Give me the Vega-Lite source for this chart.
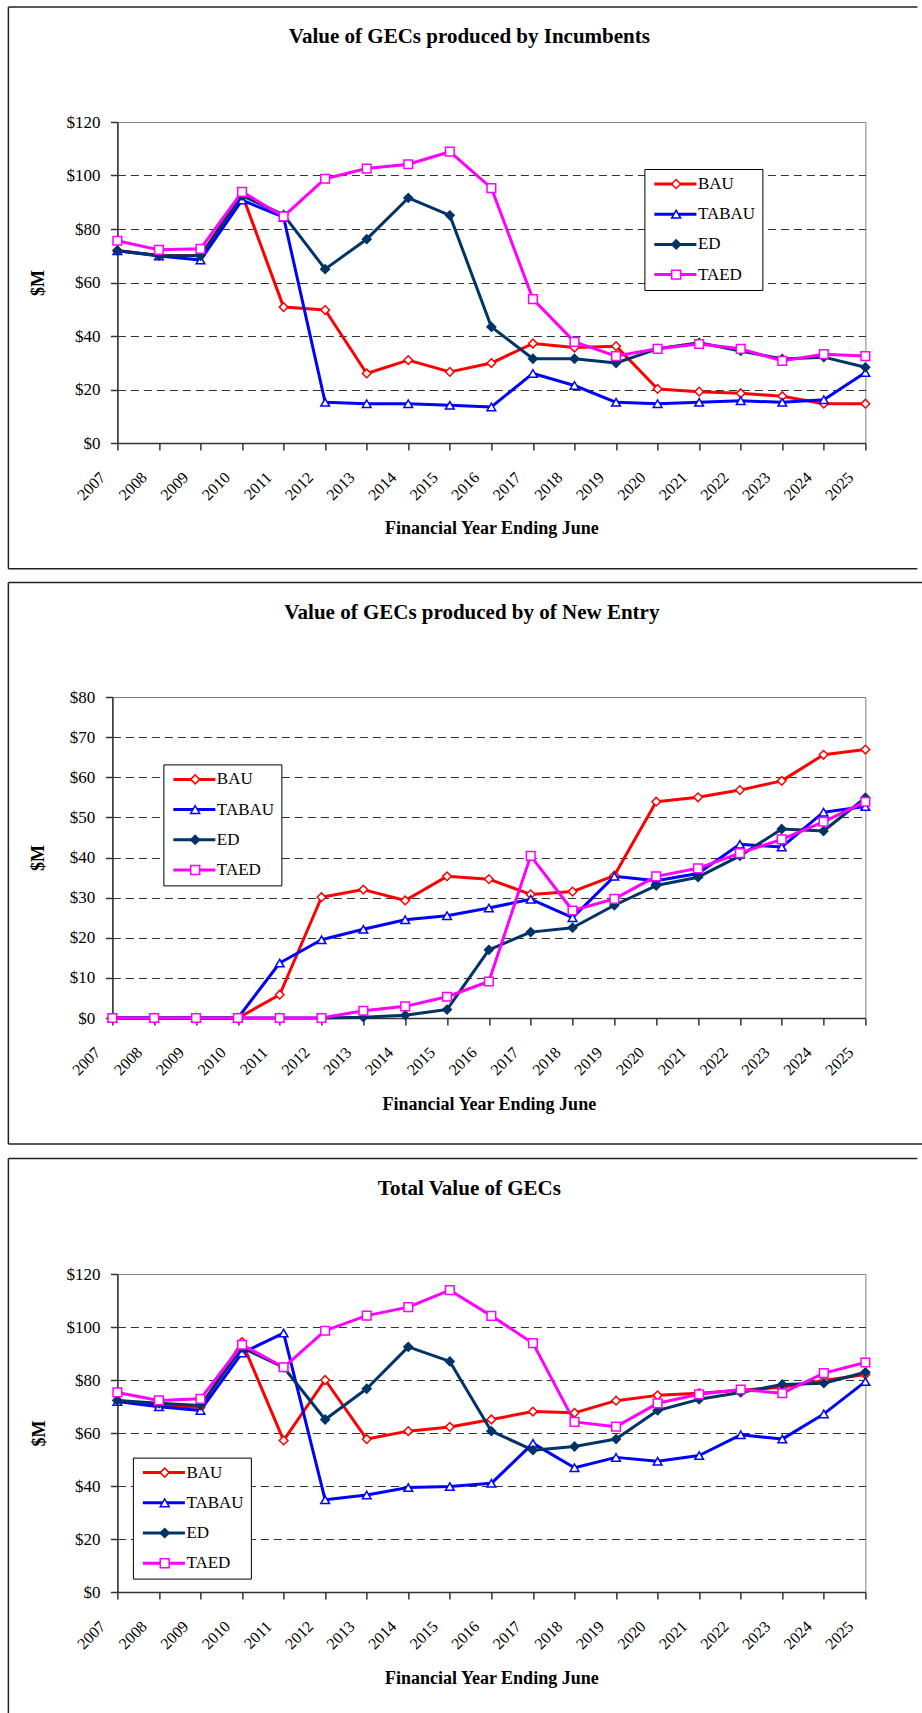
{
"$schema": "https://vega.github.io/schema/vega-lite/v6.json",
"background": "white",
"padding": {"left": 7, "top": 5, "right": 0, "bottom": 0},
"spacing": 11,
"center": true,
"resolve": {"scale": {"x": "independent", "y": "independent", "color": "independent", "stroke": "independent", "fill": "independent", "shape": "independent"}, "legend": {"color": "independent", "stroke": "independent", "fill": "independent", "shape": "independent"}},
"datasets": {
"inc": [
{"year":2007,"series":"BAU","value":72},{"year":2008,"series":"BAU","value":70.1},{"year":2009,"series":"BAU","value":70.1},{"year":2010,"series":"BAU","value":93},{"year":2011,"series":"BAU","value":50.8},{"year":2012,"series":"BAU","value":49.7},{"year":2013,"series":"BAU","value":26},{"year":2014,"series":"BAU","value":31},{"year":2015,"series":"BAU","value":26.6},{"year":2016,"series":"BAU","value":29.9},{"year":2017,"series":"BAU","value":37.2},{"year":2018,"series":"BAU","value":35.7},{"year":2019,"series":"BAU","value":36.2},{"year":2020,"series":"BAU","value":20.2},{"year":2021,"series":"BAU","value":19.2},{"year":2022,"series":"BAU","value":18.6},{"year":2023,"series":"BAU","value":17.5},{"year":2024,"series":"BAU","value":14.7},{"year":2025,"series":"BAU","value":14.7},
{"year":2007,"series":"TABAU","value":71.9},{"year":2008,"series":"TABAU","value":69.9},{"year":2009,"series":"TABAU","value":68.4},{"year":2010,"series":"TABAU","value":90.8},{"year":2011,"series":"TABAU","value":84.4},{"year":2012,"series":"TABAU","value":15.2},{"year":2013,"series":"TABAU","value":14.7},{"year":2014,"series":"TABAU","value":14.7},{"year":2015,"series":"TABAU","value":14.1},{"year":2016,"series":"TABAU","value":13.5},{"year":2017,"series":"TABAU","value":26},{"year":2018,"series":"TABAU","value":21.5},{"year":2019,"series":"TABAU","value":15.2},{"year":2020,"series":"TABAU","value":14.7},{"year":2021,"series":"TABAU","value":15.2},{"year":2022,"series":"TABAU","value":15.8},{"year":2023,"series":"TABAU","value":15.2},{"year":2024,"series":"TABAU","value":16.2},{"year":2025,"series":"TABAU","value":26.4},
{"year":2007,"series":"ED","value":71.9},{"year":2008,"series":"ED","value":70.1},{"year":2009,"series":"ED","value":70},{"year":2010,"series":"ED","value":92.5},{"year":2011,"series":"ED","value":85.3},{"year":2012,"series":"ED","value":65},{"year":2013,"series":"ED","value":76.2},{"year":2014,"series":"ED","value":91.6},{"year":2015,"series":"ED","value":85.1},{"year":2016,"series":"ED","value":43.4},{"year":2017,"series":"ED","value":31.5},{"year":2018,"series":"ED","value":31.5},{"year":2019,"series":"ED","value":29.9},{"year":2020,"series":"ED","value":35.2},{"year":2021,"series":"ED","value":37.5},{"year":2022,"series":"ED","value":34.4},{"year":2023,"series":"ED","value":31.4},{"year":2024,"series":"ED","value":32.1},{"year":2025,"series":"ED","value":28.3},
{"year":2007,"series":"TAED","value":75.6},{"year":2008,"series":"TAED","value":72.2},{"year":2009,"series":"TAED","value":72.6},{"year":2010,"series":"TAED","value":93.9},{"year":2011,"series":"TAED","value":84.7},{"year":2012,"series":"TAED","value":98.8},{"year":2013,"series":"TAED","value":102.6},{"year":2014,"series":"TAED","value":104.2},{"year":2015,"series":"TAED","value":108.9},{"year":2016,"series":"TAED","value":95.3},{"year":2017,"series":"TAED","value":53.8},{"year":2018,"series":"TAED","value":37.8},{"year":2019,"series":"TAED","value":32.5},{"year":2020,"series":"TAED","value":35.2},{"year":2021,"series":"TAED","value":37},{"year":2022,"series":"TAED","value":35.2},{"year":2023,"series":"TAED","value":30.7},{"year":2024,"series":"TAED","value":33.2},{"year":2025,"series":"TAED","value":32.5}
],
"new": [
{"year":2007,"series":"BAU","value":0},{"year":2008,"series":"BAU","value":0},{"year":2009,"series":"BAU","value":0},{"year":2010,"series":"BAU","value":0},{"year":2011,"series":"BAU","value":5.8},{"year":2012,"series":"BAU","value":30.1},{"year":2013,"series":"BAU","value":32},{"year":2014,"series":"BAU","value":29.3},{"year":2015,"series":"BAU","value":35.3},{"year":2016,"series":"BAU","value":34.6},{"year":2017,"series":"BAU","value":30.8},{"year":2018,"series":"BAU","value":31.5},{"year":2019,"series":"BAU","value":35.5},{"year":2020,"series":"BAU","value":53.9},{"year":2021,"series":"BAU","value":55},{"year":2022,"series":"BAU","value":56.8},{"year":2023,"series":"BAU","value":59.1},{"year":2024,"series":"BAU","value":65.6},{"year":2025,"series":"BAU","value":66.9},
{"year":2007,"series":"TABAU","value":0},{"year":2008,"series":"TABAU","value":0},{"year":2009,"series":"TABAU","value":0},{"year":2010,"series":"TABAU","value":0},{"year":2011,"series":"TABAU","value":13.7},{"year":2012,"series":"TABAU","value":19.5},{"year":2013,"series":"TABAU","value":22.1},{"year":2014,"series":"TABAU","value":24.5},{"year":2015,"series":"TABAU","value":25.5},{"year":2016,"series":"TABAU","value":27.4},{"year":2017,"series":"TABAU","value":29.6},{"year":2018,"series":"TABAU","value":25},{"year":2019,"series":"TABAU","value":35.3},{"year":2020,"series":"TABAU","value":34.2},{"year":2021,"series":"TABAU","value":36},{"year":2022,"series":"TABAU","value":43.3},{"year":2023,"series":"TABAU","value":42.6},{"year":2024,"series":"TABAU","value":51.3},{"year":2025,"series":"TABAU","value":52.7},
{"year":2007,"series":"ED","value":0},{"year":2008,"series":"ED","value":0},{"year":2009,"series":"ED","value":0},{"year":2010,"series":"ED","value":0},{"year":2011,"series":"ED","value":0},{"year":2012,"series":"ED","value":0},{"year":2013,"series":"ED","value":0.2},{"year":2014,"series":"ED","value":0.7},{"year":2015,"series":"ED","value":2.1},{"year":2016,"series":"ED","value":17},{"year":2017,"series":"ED","value":21.4},{"year":2018,"series":"ED","value":22.5},{"year":2019,"series":"ED","value":28.1},{"year":2020,"series":"ED","value":33},{"year":2021,"series":"ED","value":35.1},{"year":2022,"series":"ED","value":40.4},{"year":2023,"series":"ED","value":47.1},{"year":2024,"series":"ED","value":46.6},{"year":2025,"series":"ED","value":54.9},
{"year":2007,"series":"TAED","value":0},{"year":2008,"series":"TAED","value":0},{"year":2009,"series":"TAED","value":0},{"year":2010,"series":"TAED","value":0},{"year":2011,"series":"TAED","value":0},{"year":2012,"series":"TAED","value":0},{"year":2013,"series":"TAED","value":1.8},{"year":2014,"series":"TAED","value":2.9},{"year":2015,"series":"TAED","value":5.3},{"year":2016,"series":"TAED","value":9.1},{"year":2017,"series":"TAED","value":40.4},{"year":2018,"series":"TAED","value":26.8},{"year":2019,"series":"TAED","value":29.7},{"year":2020,"series":"TAED","value":35.3},{"year":2021,"series":"TAED","value":37.3},{"year":2022,"series":"TAED","value":41.1},{"year":2023,"series":"TAED","value":44.5},{"year":2024,"series":"TAED","value":48.9},{"year":2025,"series":"TAED","value":53.9}
],
"tot": [
{"year":2007,"series":"BAU","value":72.3},{"year":2008,"series":"BAU","value":70.6},{"year":2009,"series":"BAU","value":69.6},{"year":2010,"series":"BAU","value":94.3},{"year":2011,"series":"BAU","value":57.2},{"year":2012,"series":"BAU","value":80},{"year":2013,"series":"BAU","value":57.7},{"year":2014,"series":"BAU","value":60.7},{"year":2015,"series":"BAU","value":62.3},{"year":2016,"series":"BAU","value":65.1},{"year":2017,"series":"BAU","value":68.1},{"year":2018,"series":"BAU","value":67.6},{"year":2019,"series":"BAU","value":72.2},{"year":2020,"series":"BAU","value":74.2},{"year":2021,"series":"BAU","value":75},{"year":2022,"series":"BAU","value":76.1},{"year":2023,"series":"BAU","value":77.3},{"year":2024,"series":"BAU","value":79.8},{"year":2025,"series":"BAU","value":82.1},
{"year":2007,"series":"TABAU","value":71.9},{"year":2008,"series":"TABAU","value":69.9},{"year":2009,"series":"TABAU","value":68.5},{"year":2010,"series":"TABAU","value":90.2},{"year":2011,"series":"TABAU","value":97.7},{"year":2012,"series":"TABAU","value":34.8},{"year":2013,"series":"TABAU","value":36.6},{"year":2014,"series":"TABAU","value":39.4},{"year":2015,"series":"TABAU","value":39.8},{"year":2016,"series":"TABAU","value":41},{"year":2017,"series":"TABAU","value":56.1},{"year":2018,"series":"TABAU","value":46.9},{"year":2019,"series":"TABAU","value":50.8},{"year":2020,"series":"TABAU","value":49.3},{"year":2021,"series":"TABAU","value":51.5},{"year":2022,"series":"TABAU","value":59.3},{"year":2023,"series":"TABAU","value":57.7},{"year":2024,"series":"TABAU","value":67.2},{"year":2025,"series":"TABAU","value":79.4},
{"year":2007,"series":"ED","value":72.3},{"year":2008,"series":"ED","value":71.2},{"year":2009,"series":"ED","value":70.4},{"year":2010,"series":"ED","value":92.2},{"year":2011,"series":"ED","value":84.8},{"year":2012,"series":"ED","value":65.1},{"year":2013,"series":"ED","value":76.7},{"year":2014,"series":"ED","value":92.5},{"year":2015,"series":"ED","value":87},{"year":2016,"series":"ED","value":60.7},{"year":2017,"series":"ED","value":53.5},{"year":2018,"series":"ED","value":54.9},{"year":2019,"series":"ED","value":57.7},{"year":2020,"series":"ED","value":68.5},{"year":2021,"series":"ED","value":72.7},{"year":2022,"series":"ED","value":75.3},{"year":2023,"series":"ED","value":78.3},{"year":2024,"series":"ED","value":78.8},{"year":2025,"series":"ED","value":82.9},
{"year":2007,"series":"TAED","value":75.3},{"year":2008,"series":"TAED","value":72.3},{"year":2009,"series":"TAED","value":72.9},{"year":2010,"series":"TAED","value":93.3},{"year":2011,"series":"TAED","value":84.8},{"year":2012,"series":"TAED","value":98.6},{"year":2013,"series":"TAED","value":104.3},{"year":2014,"series":"TAED","value":107.5},{"year":2015,"series":"TAED","value":113.9},{"year":2016,"series":"TAED","value":104.2},{"year":2017,"series":"TAED","value":93.9},{"year":2018,"series":"TAED","value":64.2},{"year":2019,"series":"TAED","value":62.4},{"year":2020,"series":"TAED","value":71.2},{"year":2021,"series":"TAED","value":74.6},{"year":2022,"series":"TAED","value":76.4},{"year":2023,"series":"TAED","value":75},{"year":2024,"series":"TAED","value":82.6},{"year":2025,"series":"TAED","value":86.6}
]
},
"vconcat": [
{
"width": 748, "height": 321,
"title": {"text": "Value of GECs produced by Incumbents", "offset": -41, "dx": 6.5},
"data": {"name": "inc"},
"layer": [
{"mark": {"type": "line", "strokeWidth": 3, "strokeJoin": "round", "strokeCap": "round"},
 "encoding": {
  "x": {"field": "year", "type": "quantitative", "scale": {"domain": [2007, 2025], "nice": false, "zero": false},
   "axis": {"values": [2007,2008,2009,2010,2011,2012,2013,2014,2015,2016,2017,2018,2019,2020,2021,2022,2023,2024,2025], "format": "d", "title": "Financial Year Ending June", "grid": false, "labelAngle": -45, "labelAlign": "right", "labelBaseline": "middle", "labelOffset": -15, "labelPadding": 24.5, "labelFontSize": 16, "labelFlush": false, "labelOverlap": false, "titleY": 90.7, "titleBaseline": "alphabetic"}},
  "y": {"field": "value", "type": "quantitative", "scale": {"domain": [0, 120], "nice": false},
   "axis": {"values": [0,20,40,60,80,100,120], "format": "$,.0f", "title": "$M", "grid": true, "gridDash": [8,5], "gridColor": "#333", "gridOpacity": {"condition": {"test": "datum.value === 0 || datum.value === 120", "value": 0}, "value": 1}, "labelPadding": 10.5, "labelFontSize": 17, "titleX": -79, "titleAngle": -90, "titleBaseline": "middle", "titleAlign": "center"}},
  "color": {"field": "series", "type": "nominal", "sort": ["BAU","TABAU","ED","TAED"], "scale": {"range": ["#ff0000","#0000ff","#003366","#ff00ff"]},
   "legend": {"title": null, "orient": "none", "legendX": 527, "legendY": 47, "symbolType": "M-4.7,0L4.7,0", "symbolSize": 80, "symbolStrokeWidth": 3, "symbolOffset": 16, "labelOffset": 14, "padding": 6.5, "rowPadding": 12.2, "strokeColor": "#000000", "fillColor": "#ffffff"}}
 }},
{"mark": {"type": "point", "strokeWidth": 1.5, "opacity": 1, "size": 75},
 "encoding": {
  "x": {"field": "year", "type": "quantitative", "scale": {"domain": [2007, 2025], "nice": false, "zero": false}},
  "y": {"field": "value", "type": "quantitative", "scale": {"domain": [0, 120], "nice": false}},
  "shape": {"field": "series", "type": "nominal", "scale": {"domain": ["BAU","TABAU","ED","TAED"], "range": ["diamond","triangle-up","diamond","square"]},
   "legend": {"title": null, "orient": "none", "legendX": 527, "legendY": 47, "symbolSize": 80, "symbolStrokeWidth": 1.5, "symbolOffset": 16.8, "labelOffset": 14.3, "padding": 6.5, "rowPadding": 12.2, "labelOpacity": 0}},
  "stroke": {"field": "series", "type": "nominal", "scale": {"domain": ["BAU","TABAU","ED","TAED"], "range": ["#ff0000","#0000ff","#003366","#ff00ff"]},
   "legend": {"title": null, "orient": "none", "legendX": 527, "legendY": 47, "symbolSize": 80, "symbolStrokeWidth": 1.5, "symbolOffset": 16.8, "labelOffset": 14.3, "padding": 6.5, "rowPadding": 12.2, "labelOpacity": 0}},
  "fill": {"field": "series", "type": "nominal", "scale": {"domain": ["BAU","TABAU","ED","TAED"], "range": ["#ffffff","#ffffff","#003366","#ffffff"]},
   "legend": {"title": null, "orient": "none", "legendX": 527, "legendY": 47, "symbolSize": 80, "symbolStrokeWidth": 1.5, "symbolOffset": 16.8, "labelOffset": 14.3, "padding": 6.5, "rowPadding": 12.2, "labelOpacity": 0}}
 }},
{"data": {"values": [{}]}, "mark": {"type": "rule", "clip": false, "color": "#222", "strokeWidth": 1.5},
 "encoding": {"x": {"datum": 2004.377, "type": "quantitative", "scale": {"domain": [2007, 2025], "nice": false, "zero": false}}, "x2": {"datum": 2026.251}, "y": {"datum": 163, "type": "quantitative", "scale": {"domain": [0, 120], "nice": false}}}},
{"data": {"values": [{}]}, "mark": {"type": "rule", "clip": false, "color": "#222", "strokeWidth": 1.5},
 "encoding": {"x": {"datum": 2004.377, "type": "quantitative", "scale": {"domain": [2007, 2025], "nice": false, "zero": false}}, "y": {"datum": 163, "type": "quantitative", "scale": {"domain": [0, 120], "nice": false}}, "y2": {"datum": -47}}},
{"data": {"values": [{}]}, "mark": {"type": "rule", "clip": false, "color": "#222", "strokeWidth": 1.5},
 "encoding": {"x": {"datum": 2004.377, "type": "quantitative", "scale": {"domain": [2007, 2025], "nice": false, "zero": false}}, "x2": {"datum": 2026.251}, "y": {"datum": -47, "type": "quantitative", "scale": {"domain": [0, 120], "nice": false}}}}
]
},
{
"width": 753, "height": 321,
"title": {"text": "Value of GECs produced by of New Entry", "offset": -41, "dx": 6.5},
"data": {"name": "new"},
"layer": [
{"mark": {"type": "line", "strokeWidth": 3, "strokeJoin": "round", "strokeCap": "round"},
 "encoding": {
  "x": {"field": "year", "type": "quantitative", "scale": {"domain": [2007, 2025], "nice": false, "zero": false},
   "axis": {"values": [2007,2008,2009,2010,2011,2012,2013,2014,2015,2016,2017,2018,2019,2020,2021,2022,2023,2024,2025], "format": "d", "title": "Financial Year Ending June", "grid": false, "labelAngle": -45, "labelAlign": "right", "labelBaseline": "middle", "labelOffset": -15, "labelPadding": 24.5, "labelFontSize": 16, "labelFlush": false, "labelOverlap": false, "titleY": 91.5, "titleBaseline": "alphabetic"}},
  "y": {"field": "value", "type": "quantitative", "scale": {"domain": [0, 80], "nice": false},
   "axis": {"values": [0,10,20,30,40,50,60,70,80], "format": "$,.0f", "title": "$M", "grid": true, "gridDash": [8,5], "gridColor": "#333", "gridOpacity": {"condition": {"test": "datum.value === 0 || datum.value === 80", "value": 0}, "value": 1}, "labelPadding": 10.5, "labelFontSize": 17, "titleX": -74, "titleAngle": -90, "titleBaseline": "middle", "titleAlign": "center"}},
  "color": {"field": "series", "type": "nominal", "sort": ["BAU","TABAU","ED","TAED"], "scale": {"range": ["#ff0000","#0000ff","#003366","#ff00ff"]},
   "legend": {"title": null, "orient": "none", "legendX": 51, "legendY": 67.4, "symbolType": "M-4.7,0L4.7,0", "symbolSize": 80, "symbolStrokeWidth": 3, "symbolOffset": 16, "labelOffset": 14, "padding": 6.5, "rowPadding": 12.2, "strokeColor": "#000000", "fillColor": "#ffffff"}}
 }},
{"mark": {"type": "point", "strokeWidth": 1.5, "opacity": 1, "size": 75},
 "encoding": {
  "x": {"field": "year", "type": "quantitative", "scale": {"domain": [2007, 2025], "nice": false, "zero": false}},
  "y": {"field": "value", "type": "quantitative", "scale": {"domain": [0, 80], "nice": false}},
  "shape": {"field": "series", "type": "nominal", "scale": {"domain": ["BAU","TABAU","ED","TAED"], "range": ["diamond","triangle-up","diamond","square"]},
   "legend": {"title": null, "orient": "none", "legendX": 51, "legendY": 67.4, "symbolSize": 80, "symbolStrokeWidth": 1.5, "symbolOffset": 16.8, "labelOffset": 14.3, "padding": 6.5, "rowPadding": 12.2, "labelOpacity": 0}},
  "stroke": {"field": "series", "type": "nominal", "scale": {"domain": ["BAU","TABAU","ED","TAED"], "range": ["#ff0000","#0000ff","#003366","#ff00ff"]},
   "legend": {"title": null, "orient": "none", "legendX": 51, "legendY": 67.4, "symbolSize": 80, "symbolStrokeWidth": 1.5, "symbolOffset": 16.8, "labelOffset": 14.3, "padding": 6.5, "rowPadding": 12.2, "labelOpacity": 0}},
  "fill": {"field": "series", "type": "nominal", "scale": {"domain": ["BAU","TABAU","ED","TAED"], "range": ["#ffffff","#ffffff","#003366","#ffffff"]},
   "legend": {"title": null, "orient": "none", "legendX": 51, "legendY": 67.4, "symbolSize": 80, "symbolStrokeWidth": 1.5, "symbolOffset": 16.8, "labelOffset": 14.3, "padding": 6.5, "rowPadding": 12.2, "labelOpacity": 0}}
 }},
{"data": {"values": [{}]}, "mark": {"type": "rule", "clip": false, "color": "#222", "strokeWidth": 1.5},
 "encoding": {"x": {"datum": 2004.514, "type": "quantitative", "scale": {"domain": [2007, 2025], "nice": false, "zero": false}}, "x2": {"datum": 2026.363}, "y": {"datum": 108.54, "type": "quantitative", "scale": {"domain": [0, 80], "nice": false}}}},
{"data": {"values": [{}]}, "mark": {"type": "rule", "clip": false, "color": "#222", "strokeWidth": 1.5},
 "encoding": {"x": {"datum": 2004.514, "type": "quantitative", "scale": {"domain": [2007, 2025], "nice": false, "zero": false}}, "y": {"datum": 108.54, "type": "quantitative", "scale": {"domain": [0, 80], "nice": false}}, "y2": {"datum": -31.4}}},
{"data": {"values": [{}]}, "mark": {"type": "rule", "clip": false, "color": "#222", "strokeWidth": 1.5},
 "encoding": {"x": {"datum": 2004.514, "type": "quantitative", "scale": {"domain": [2007, 2025], "nice": false, "zero": false}}, "x2": {"datum": 2026.363}, "y": {"datum": -31.4, "type": "quantitative", "scale": {"domain": [0, 80], "nice": false}}}}
]
},
{
"width": 748, "height": 318,
"title": {"text": "Total Value of GECs", "offset": -41, "dx": 6.5},
"data": {"name": "tot"},
"layer": [
{"mark": {"type": "line", "strokeWidth": 3, "strokeJoin": "round", "strokeCap": "round"},
 "encoding": {
  "x": {"field": "year", "type": "quantitative", "scale": {"domain": [2007, 2025], "nice": false, "zero": false},
   "axis": {"values": [2007,2008,2009,2010,2011,2012,2013,2014,2015,2016,2017,2018,2019,2020,2021,2022,2023,2024,2025], "format": "d", "title": "Financial Year Ending June", "grid": false, "labelAngle": -45, "labelAlign": "right", "labelBaseline": "middle", "labelOffset": -15, "labelPadding": 24.5, "labelFontSize": 16, "labelFlush": false, "labelOverlap": false, "titleY": 91.4, "titleBaseline": "alphabetic"}},
  "y": {"field": "value", "type": "quantitative", "scale": {"domain": [0, 120], "nice": false},
   "axis": {"values": [0,20,40,60,80,100,120], "format": "$,.0f", "title": "$M", "grid": true, "gridDash": [8,5], "gridColor": "#333", "gridOpacity": {"condition": {"test": "datum.value === 0 || datum.value === 120", "value": 0}, "value": 1}, "labelPadding": 10.5, "labelFontSize": 17, "titleX": -78, "titleAngle": -90, "titleBaseline": "middle", "titleAlign": "center"}},
  "color": {"field": "series", "type": "nominal", "sort": ["BAU","TABAU","ED","TAED"], "scale": {"range": ["#ff0000","#0000ff","#003366","#ff00ff"]},
   "legend": {"title": null, "orient": "none", "legendX": 15.5, "legendY": 183.6, "symbolType": "M-4.7,0L4.7,0", "symbolSize": 80, "symbolStrokeWidth": 3, "symbolOffset": 16, "labelOffset": 14, "padding": 6.5, "rowPadding": 12.2, "strokeColor": "#000000", "fillColor": "#ffffff"}}
 }},
{"mark": {"type": "point", "strokeWidth": 1.5, "opacity": 1, "size": 75},
 "encoding": {
  "x": {"field": "year", "type": "quantitative", "scale": {"domain": [2007, 2025], "nice": false, "zero": false}},
  "y": {"field": "value", "type": "quantitative", "scale": {"domain": [0, 120], "nice": false}},
  "shape": {"field": "series", "type": "nominal", "scale": {"domain": ["BAU","TABAU","ED","TAED"], "range": ["diamond","triangle-up","diamond","square"]},
   "legend": {"title": null, "orient": "none", "legendX": 15.5, "legendY": 183.6, "symbolSize": 80, "symbolStrokeWidth": 1.5, "symbolOffset": 16.8, "labelOffset": 14.3, "padding": 6.5, "rowPadding": 12.2, "labelOpacity": 0}},
  "stroke": {"field": "series", "type": "nominal", "scale": {"domain": ["BAU","TABAU","ED","TAED"], "range": ["#ff0000","#0000ff","#003366","#ff00ff"]},
   "legend": {"title": null, "orient": "none", "legendX": 15.5, "legendY": 183.6, "symbolSize": 80, "symbolStrokeWidth": 1.5, "symbolOffset": 16.8, "labelOffset": 14.3, "padding": 6.5, "rowPadding": 12.2, "labelOpacity": 0}},
  "fill": {"field": "series", "type": "nominal", "scale": {"domain": ["BAU","TABAU","ED","TAED"], "range": ["#ffffff","#ffffff","#003366","#ffffff"]},
   "legend": {"title": null, "orient": "none", "legendX": 15.5, "legendY": 183.6, "symbolSize": 80, "symbolStrokeWidth": 1.5, "symbolOffset": 16.8, "labelOffset": 14.3, "padding": 6.5, "rowPadding": 12.2, "labelOpacity": 0}}
 }},
{"data": {"values": [{}]}, "mark": {"type": "rule", "clip": false, "color": "#222", "strokeWidth": 1.5},
 "encoding": {"x": {"datum": 2004.377, "type": "quantitative", "scale": {"domain": [2007, 2025], "nice": false, "zero": false}}, "x2": {"datum": 2026.251}, "y": {"datum": 163.58, "type": "quantitative", "scale": {"domain": [0, 120], "nice": false}}}},
{"data": {"values": [{}]}, "mark": {"type": "rule", "clip": false, "color": "#222", "strokeWidth": 1.5},
 "encoding": {"x": {"datum": 2004.377, "type": "quantitative", "scale": {"domain": [2007, 2025], "nice": false, "zero": false}}, "y": {"datum": 163.58, "type": "quantitative", "scale": {"domain": [0, 120], "nice": false}}, "y2": {"datum": -46.4}}}
]
}
],
"config": {
"view": {"stroke": "#808080", "strokeWidth": 1},
"font": "Liberation Serif",
"title": {"font": "Liberation Serif", "fontSize": 21, "fontWeight": "bold", "color": "#000000", "anchor": "middle", "frame": "bounds"},
"axis": {"labelFont": "Liberation Serif", "labelFontSize": 16, "labelColor": "#000000", "titleFont": "Liberation Serif", "titleFontSize": 18, "titleFontWeight": "bold", "titleColor": "#000000", "domainColor": "#333333", "domainWidth": 1.5, "tickColor": "#333333", "tickWidth": 1.5, "tickSize": 7},
"legend": {"labelFont": "Liberation Serif", "labelFontSize": 17, "labelColor": "#000000", "cornerRadius": 0}
}
}
